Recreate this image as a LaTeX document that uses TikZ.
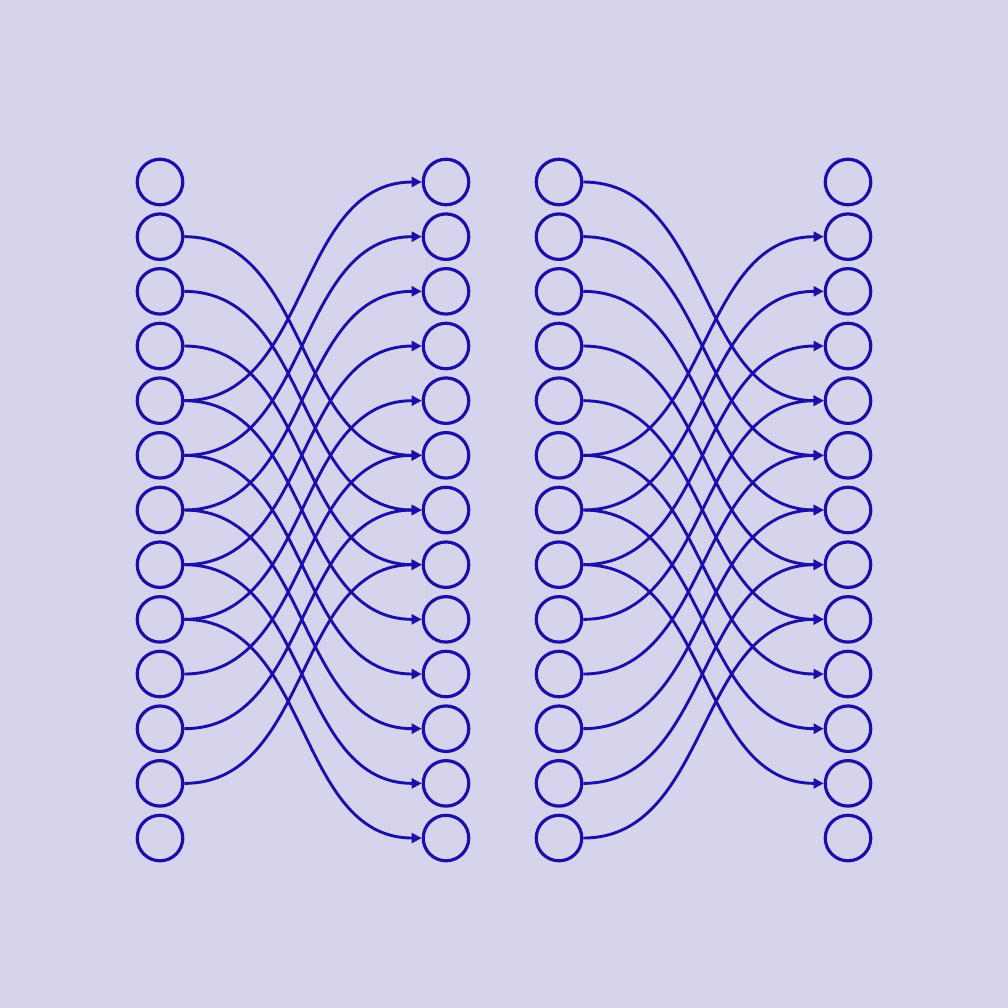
\documentclass[tikz,border=0pt]{standalone}
\usetikzlibrary{arrows.meta}
\definecolor{bg}{RGB}{214,211,236}
\definecolor{ink}{RGB}{26,16,168}
\begin{document}
\begin{tikzpicture}[x=1pt,y=-1pt,
  dot/.style={circle,draw=ink,line width=3.2pt,minimum size=45.5pt,inner sep=0pt},
  link/.style={draw=ink,line width=2.9pt,-{Triangle[length=10pt,width=10pt]},out=0,in=180}]
\fill[bg] (0,0) rectangle (1008,1008);
\foreach \i in {0,...,12}{
  \pgfmathsetmacro\yy{182+54.67*\i}
  \node[dot] (a\i) at (160,\yy) {};
  \node[dot] (b\i) at (446,\yy) {};
  \node[dot] (c\i) at (559,\yy) {};
  \node[dot] (d\i) at (848,\yy) {};
}
\foreach \i in {1,...,8}{\pgfmathtruncatemacro\j{\i+4}\draw[link] (a\i.east) to (b\j.west);}
\foreach \i in {4,...,11}{\pgfmathtruncatemacro\j{\i-4}\draw[link] (a\i.east) to (b\j.west);}
\foreach \i in {0,...,7}{\pgfmathtruncatemacro\j{\i+4}\draw[link] (c\i.east) to (d\j.west);}
\foreach \i in {5,...,12}{\pgfmathtruncatemacro\j{\i-4}\draw[link] (c\i.east) to (d\j.west);}
\end{tikzpicture}
\end{document}
